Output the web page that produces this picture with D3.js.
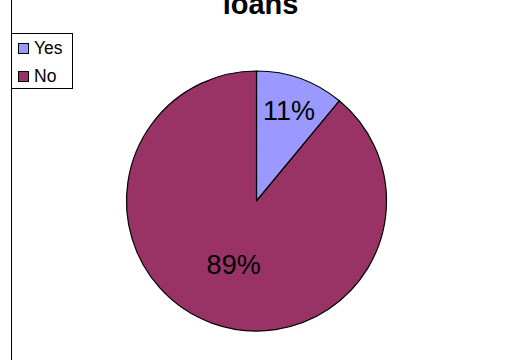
<!DOCTYPE html>
<html>
<head>
<meta charset="utf-8">
<script src="https://cdn.jsdelivr.net/npm/d3@7"></script>
<style>
  html, body { margin: 0; padding: 0; background: #fff; }
  svg { display: block; font-family: "Liberation Sans", Arial, sans-serif; }
</style>
</head>
<body>
<svg id="chart" width="508" height="360"></svg>
<script>
// Loan responses
const categories = ["Yes", "No"];
const values = [11, 89];
const colors = ["#9999FF", "#993366"];
const title = "loans";

const svg = d3.select("#chart");
const W = 508, H = 360;
const cx = 256.5, cy = 201, radius = 130;

// Chart-area border on the left
svg.append("line")
  .attr("x1", 11.5).attr("x2", 11.5)
  .attr("y1", 0).attr("y2", H)
  .attr("stroke", "#000").attr("stroke-width", 1);

// Title (top of the text runs off the page)
svg.append("text")
  .attr("x", 260.5).attr("y", 13.5)
  .attr("text-anchor", "middle")
  .attr("font-weight", "bold")
  .attr("font-size", 29)
  .attr("fill", "#000")
  .text(title);

const total = d3.sum(values);
const pie = d3.pie().sort(null).value(d => d)(values);
const arc = d3.arc().innerRadius(0).outerRadius(radius);

const g = svg.append("g").attr("transform", `translate(${cx},${cy})`);

g.selectAll("path.slice")
  .data(pie)
  .join("path")
  .attr("class", "slice")
  .attr("d", arc)
  .attr("fill", (d, i) => colors[i])
  .attr("stroke", "#000")
  .attr("stroke-width", 1.2)
  .attr("stroke-linejoin", "round");

// Percentage labels: small slices sit further out than large ones
const labelRadius = d => (d.endAngle - d.startAngle) < Math.PI / 2 ? 96 : 67.5;
g.selectAll("text.pct")
  .data(pie)
  .join("text")
  .attr("class", "pct")
  .attr("transform", d => {
    const r = labelRadius(d);
    const c = d3.arc().innerRadius(r).outerRadius(r).centroid(d);
    return `translate(${c[0]},${c[1]})`;
  })
  .attr("text-anchor", "middle")
  .attr("dy", "0.36em")
  .attr("font-size", 27)
  .attr("fill", "#000")
  .text(d => Math.round(d.value / total * 100) + "%");

// Legend
const legend = svg.append("g");
legend.append("rect")
  .attr("x", 11.5).attr("y", 33.5)
  .attr("width", 61).attr("height", 55)
  .attr("fill", "#fff")
  .attr("stroke", "#000").attr("stroke-width", 1);

const item = legend.selectAll("g.item")
  .data(categories)
  .join("g")
  .attr("class", "item")
  .attr("transform", (d, i) => `translate(0,${i * 28})`);

item.append("rect")
  .attr("x", 18.5).attr("y", 43.5)
  .attr("width", 10).attr("height", 10)
  .attr("fill", (d, i) => colors[i])
  .attr("stroke", "#000").attr("stroke-width", 1);

item.append("text")
  .attr("x", 34).attr("y", 53.5)
  .attr("font-size", 17.5)
  .attr("fill", "#000")
  .text(d => d);
</script>
</body>
</html>
